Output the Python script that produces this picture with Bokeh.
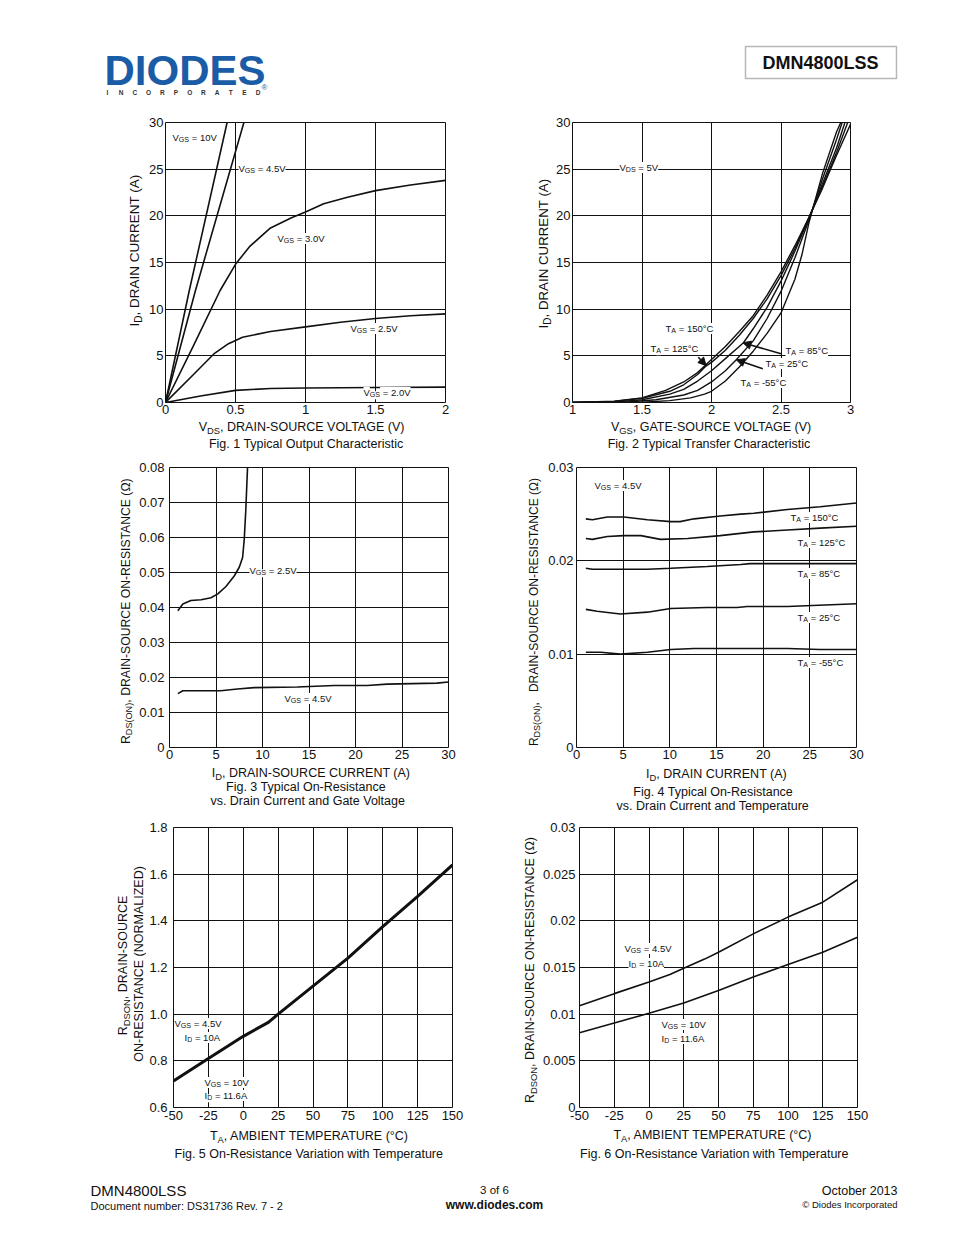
import math
from bokeh.plotting import figure
from bokeh.models import Range1d, FixedTicker, Label, Arrow, NormalHead, BoxAnnotation
from bokeh.layouts import column, row
from bokeh.embed import file_html
from bokeh.resources import INLINE

FONT = "Liberation Sans"
INK = "#111111"

# ---------------- DATA ----------------
# Fig 1 - output characteristic
f1_x_ticks = [0, 0.5, 1, 1.5, 2]
f1_x_labels = ["0", "0.5", "1", "1.5", "2"]
f1_y_ticks = [0, 5, 10, 15, 20, 25, 30]
f1_y_labels = ["0", "5", "10", "15", "20", "25", "30"]
f1_vgs10_x = [0, 0.17, 0.44]
f1_vgs10_y = [0, 12, 30]
f1_vgs45_x = [0, 0.214, 0.56]
f1_vgs45_y = [0, 12, 30]
f1_vgs30_x = [0, 0.2, 0.39, 0.5, 0.6, 0.75, 0.9, 1.0, 1.13, 1.3, 1.5, 1.75, 2.0]
f1_vgs30_y = [0, 6.1, 12.0, 14.8, 16.7, 18.7, 19.8, 20.4, 21.3, 22.0, 22.7, 23.3, 23.8]
f1_vgs25_x = [0, 0.2, 0.345, 0.45, 0.55, 0.75, 1.0, 1.25, 1.5, 1.75, 2.0]
f1_vgs25_y = [0, 3.0, 5.2, 6.3, 7.0, 7.6, 8.1, 8.6, 9.0, 9.3, 9.5]
f1_vgs20_x = [0, 0.25, 0.5, 0.75, 1.0, 1.5, 2.0]
f1_vgs20_y = [0, 0.7, 1.3, 1.5, 1.55, 1.6, 1.65]

# Fig 2 - transfer characteristic
f2_x_ticks = [1, 1.5, 2, 2.5, 3]
f2_x_labels = ["1", "1.5", "2", "2.5", "3"]
f2_y_ticks = [0, 5, 10, 15, 20, 25, 30]
f2_y_labels = ["0", "5", "10", "15", "20", "25", "30"]
f2_t150_x = [1.0, 1.3, 1.5, 1.67, 1.8, 1.9, 2.0, 2.1, 2.2, 2.3, 2.4, 2.5, 2.6, 2.7, 2.8, 2.9, 3.0]
f2_t150_y = [0, 0.15, 0.5, 1.3, 2.2, 3.2, 4.6, 6.0, 7.6, 9.3, 11.5, 14.0, 16.8, 19.8, 23.0, 26.5, 29.8]
f2_t125_x = [1.0, 1.3, 1.5, 1.7, 1.8, 1.9, 1.96, 2.0, 2.1, 2.2, 2.3, 2.4, 2.5, 2.6, 2.7, 2.8, 2.9, 2.98]
f2_t125_y = [0, 0.12, 0.45, 1.2, 1.9, 3.0, 3.9, 4.3, 5.6, 7.2, 9.0, 11.1, 13.6, 16.5, 19.8, 23.2, 26.8, 30]
f2_t85_x = [1.0, 1.35, 1.5, 1.7, 1.8, 1.9, 2.0, 2.1, 2.23, 2.3, 2.4, 2.5, 2.6, 2.7, 2.8, 2.9, 2.96]
f2_t85_y = [0, 0.1, 0.3, 0.9, 1.4, 2.3, 3.4, 4.7, 6.4, 7.9, 10.2, 13.0, 16.2, 19.7, 23.5, 27.3, 30]
f2_t25_x = [1.0, 1.4, 1.6, 1.8, 1.9, 2.0, 2.1, 2.18, 2.3, 2.4, 2.5, 2.6, 2.7, 2.8, 2.9, 2.94]
f2_t25_y = [0, 0.06, 0.3, 0.8, 1.3, 2.2, 3.4, 4.6, 6.6, 9.0, 11.9, 15.5, 19.5, 24.0, 28.2, 30]
f2_tm55_x = [1.0, 1.5, 1.7, 1.85, 1.95, 2.0, 2.1, 2.2, 2.3, 2.4, 2.5, 2.6, 2.65, 2.7, 2.8, 2.9, 2.93]
f2_tm55_y = [0, 0.03, 0.2, 0.5, 0.9, 1.2, 2.3, 3.8, 5.5, 7.4, 9.6, 13.2, 15.8, 19.2, 24.6, 29.0, 30]

# Fig 3 - on-resistance vs drain current and gate voltage
f3_x_ticks = [0, 5, 10, 15, 20, 25, 30]
f3_x_labels = ["0", "5", "10", "15", "20", "25", "30"]
f3_y_ticks = [0, 0.01, 0.02, 0.03, 0.04, 0.05, 0.06, 0.07, 0.08]
f3_y_labels = ["0", "0.01", "0.02", "0.03", "0.04", "0.05", "0.06", "0.07", "0.08"]
f3_vgs25_x = [0.9, 1.43, 2.3, 3.4, 4.46, 5.2, 6.07, 6.96, 7.5, 7.86, 8.04, 8.2, 8.39]
f3_vgs25_y = [0.0391, 0.041, 0.042, 0.0422, 0.0428, 0.0439, 0.046, 0.049, 0.0515, 0.0543, 0.0596, 0.0676, 0.08]
f3_vgs45_x = [0.9, 1.43, 5.5, 7.3, 9.1, 13.75, 17.7, 21.25, 23.4, 28.75, 30]
f3_vgs45_y = [0.0154, 0.0162, 0.0162, 0.0167, 0.0171, 0.0173, 0.0177, 0.0177, 0.0181, 0.0184, 0.0187]

# Fig 4 - on-resistance vs drain current and temperature
f4_x_ticks = [0, 5, 10, 15, 20, 25, 30]
f4_x_labels = ["0", "5", "10", "15", "20", "25", "30"]
f4_y_ticks = [0, 0.01, 0.02, 0.03]
f4_y_labels = ["0", "0.01", "0.02", "0.03"]
f4_t150_x = [1, 1.7, 3.3, 5.07, 7.6, 10.1, 11.1, 12.6, 15.4, 17.6, 19, 22.6, 26.1, 30]
f4_t150_y = [0.0245, 0.0244, 0.0247, 0.0247, 0.0244, 0.0242, 0.0242, 0.0245, 0.0248, 0.025, 0.0251, 0.0255, 0.0258, 0.0262]
f4_t125_x = [1, 1.7, 3.3, 5.07, 6.9, 9, 11.9, 15.4, 19, 22.6, 26.1, 30]
f4_t125_y = [0.0224, 0.0223, 0.0226, 0.0227, 0.0227, 0.0223, 0.0224, 0.0227, 0.0231, 0.0233, 0.0235, 0.0237]
f4_t85_x = [1, 1.7, 4.7, 7.6, 10.1, 14, 17.6, 18.6, 22.6, 30]
f4_t85_y = [0.0192, 0.0191, 0.0191, 0.0191, 0.0192, 0.0194, 0.0196, 0.0197, 0.0197, 0.0197]
f4_t25_x = [1, 2.2, 4.7, 7.6, 10.1, 14, 17.2, 18.3, 22.6, 30]
f4_t25_y = [0.0148, 0.0146, 0.0143, 0.0145, 0.0149, 0.015, 0.015, 0.0151, 0.0151, 0.0154]
f4_tm55_x = [1, 2.6, 4.7, 7.6, 10.1, 12.6, 22.6, 26.1, 30]
f4_tm55_y = [0.0102, 0.0102, 0.0100, 0.0102, 0.0105, 0.0106, 0.0106, 0.0105, 0.0105]

# Fig 5 - normalized on-resistance vs temperature
f5_x_ticks = [-50, -25, 0, 25, 50, 75, 100, 125, 150]
f5_x_labels = ["-50", "-25", "0", "25", "50", "75", "100", "125", "150"]
f5_y_ticks = [0.6, 0.8, 1.0, 1.2, 1.4, 1.6, 1.8]
f5_y_labels = ["0.6", "0.8", "1.0", "1.2", "1.4", "1.6", "1.8"]
f5_temp = [-50, -25, 0, 18, 25, 50, 75, 100, 125, 150]
f5_rnorm = [0.714, 0.81, 0.905, 0.965, 1.0, 1.12, 1.24, 1.375, 1.505, 1.64]

# Fig 6 - on-resistance vs temperature
f6_x_ticks = [-50, -25, 0, 25, 50, 75, 100, 125, 150]
f6_x_labels = ["-50", "-25", "0", "25", "50", "75", "100", "125", "150"]
f6_y_ticks = [0, 0.005, 0.01, 0.015, 0.02, 0.025, 0.03]
f6_y_labels = ["0", "0.005", "0.01", "0.015", "0.02", "0.025", "0.03"]
f6_vgs45_t = [-50, -25, 0, 15, 25, 40, 50, 75, 100, 125, 150]
f6_vgs45_r = [0.0109, 0.0122, 0.01345, 0.01425, 0.01493, 0.0159, 0.01664, 0.0186, 0.0204, 0.022, 0.0244]
f6_vgs10_t = [-50, -25, 0, 25, 50, 75, 100, 125, 150]
f6_vgs10_r = [0.0080, 0.00905, 0.0101, 0.0112, 0.01254, 0.01397, 0.01532, 0.01664, 0.01824]

# ---------------- helpers ----------------
W = {' ': 278, '\u00a0': 278, '!': 278, '(': 333, ')': 333, ',': 278, '-': 333, '.': 278, '/': 278,
     ':': 278, '=': 584, '°': 400, 'Ω': 768, '©': 737, '®': 737,
     'A': 667, 'B': 667, 'C': 722, 'D': 722, 'E': 667, 'F': 611, 'G': 778, 'H': 722, 'I': 278,
     'J': 500, 'K': 667, 'L': 556, 'M': 833, 'N': 722, 'O': 778, 'P': 667, 'Q': 778, 'R': 722,
     'S': 667, 'T': 611, 'U': 722, 'V': 667, 'W': 944, 'X': 667, 'Y': 667, 'Z': 611,
     'a': 556, 'b': 556, 'c': 500, 'd': 556, 'e': 556, 'f': 278, 'g': 556, 'h': 556, 'i': 222,
     'j': 222, 'k': 500, 'l': 222, 'm': 833, 'n': 556, 'o': 556, 'p': 556, 'q': 556, 'r': 333,
     's': 500, 't': 278, 'u': 556, 'v': 500, 'w': 722, 'x': 500, 'y': 500, 'z': 500}


def tw(s, size):
    return sum(W.get(c, 556) for c in s) * size / 1000.0


SUB = 0.75


def _pieces(p, x0, y0, ox, oy, parts, size, vertical, align, bg, color):
    sizes = [size * SUB if s else size for _, s in parts]
    widths = [tw(t, fs) for (t, _), fs in zip(parts, sizes)]
    total = sum(widths)
    shift = total / 2 if align == "center" else 0
    pos = 0
    for (t, s), fs, w in zip(parts, sizes, widths):
        lead = len(t) - len(t.lstrip(" "))
        if bg is not None:
            # keep the leading gap inside the white box (non-breaking spaces survive in SVG)
            t = "\u00a0" * lead + t.strip(" ")
            adv = 0
        else:
            adv = tw(" " * lead, fs)
            t = t.strip(" ")
        drop = size * 0.3 if s else 0
        if not vertical:
            xo, yo, ang = ox - shift + pos + adv, oy - drop, 0
        else:
            xo, yo, ang = ox + drop, oy - shift + pos + adv, math.pi / 2
        extra = {}
        if bg is not None:
            extra = dict(background_fill_color=bg)
        p.add_layout(Label(x=x0, y=y0, x_offset=xo, y_offset=yo, text=t, angle=ang,
                           text_font=FONT, text_font_size=f"{fs:.1f}px", text_align="left",
                           text_baseline="middle", text_color=color, **extra))
        pos += w


def rich_in(p, fr, parts, px, py, size, bg="white"):
    """label inside a chart frame; fr = (frame_left, frame_bottom, x_start, y_start) (page px)"""
    left, bottom, x0, y0 = fr
    _pieces(p, x0, y0, px - left, bottom - py, parts, size, False, "left", bg, INK)


def rich_pg(p, parts, px, py, size, vertical=False, align="center", color=INK):
    """text on a page-coordinate blank figure"""
    _pieces(p, px, py, 0, 0, parts, size, vertical, align, None, color)


def blank(x0, y0, w, h, bl=0, br=0):
    p = figure(width=w, height=h, x_range=Range1d(x0 + bl, x0 + w - br), y_range=Range1d(y0 + h, y0),
               output_backend="svg", toolbar_location=None, x_axis_type=None, y_axis_type=None,
               min_border=0, min_border_left=bl, min_border_right=br)
    p.outline_line_color = None
    p.grid.visible = False
    return p


def make_fig(w, h, xr, yr, bl, br, bb, xt, xl, yt, yl, xs, ys):
    p = figure(width=w, height=h, x_range=Range1d(*xr), y_range=Range1d(*yr),
               output_backend="svg", toolbar_location=None,
               min_border_left=bl, min_border_right=br, min_border_top=12, min_border_bottom=bb)
    p.outline_line_color = INK
    p.outline_line_width = 1
    xtk = FixedTicker(ticks=xt)
    ytk = FixedTicker(ticks=yt)
    p.xaxis.ticker = xtk
    p.yaxis.ticker = ytk
    p.xgrid.ticker = xtk
    p.ygrid.ticker = ytk
    p.xaxis.major_label_overrides = dict(zip(xt, xl))
    p.yaxis.major_label_overrides = dict(zip(yt, yl))
    for ax in (p.xaxis, p.yaxis):
        ax.axis_line_color = None
        ax.major_tick_line_color = None
        ax.minor_tick_line_color = None
        ax.major_tick_out = 0
        ax.major_tick_in = 0
        ax.minor_tick_out = 0
        ax.major_label_text_font = FONT
        ax.major_label_text_font_size = "13px"
        ax.major_label_text_color = INK
    p.xaxis.major_label_standoff = xs
    p.yaxis.major_label_standoff = ys
    p.grid.grid_line_color = INK
    p.grid.grid_line_alpha = 1
    p.grid.grid_line_width = 1
    return p


FW = 280  # frame size


def cell(cell_l, cell_r, row_top, row_h, frame_l, ylb, cb, xr, yr, xt, xl, yt, yl, xs, ys):
    chart_l = frame_l - ylb
    chart_w = cell_r - chart_l
    chart_h = 12 + FW + cb
    br = cell_r - frame_l - FW
    p = make_fig(chart_w, chart_h, xr, yr, ylb, br, cb, xt, xl, yt, yl, xs, ys)
    yfig = blank(cell_l, row_top, chart_l - cell_l, row_h)
    bfig = blank(chart_l, row_top + chart_h, chart_w, row_h - chart_h, ylb, br)
    return p, yfig, bfig, row(yfig, column(p, bfig))


LW = 1.6
LBL = 9.5
R1, H1 = 110, 345
R2, H2 = 455, 360
R3, H3 = 815, 350

# ---------------- Fig 1 ----------------
p1, y1, b1, c1 = cell(0, 477, R1, H1, 165, 22, 17, (0, 2), (0, 30),
                      f1_x_ticks, f1_x_labels, f1_y_ticks, f1_y_labels, 2, 2)
for xs_, ys_ in [(f1_vgs10_x, f1_vgs10_y), (f1_vgs45_x, f1_vgs45_y), (f1_vgs30_x, f1_vgs30_y),
                 (f1_vgs25_x, f1_vgs25_y), (f1_vgs20_x, f1_vgs20_y)]:
    p1.line(xs_, ys_, line_color=INK, line_width=LW)
fr1 = (165, 402, 0, 0)
rich_pg(b1, [("V", 0), ("DS", 1), (", DRAIN-SOURCE VOLTAGE (V)", 0)], 302, 426, 12.5)
rich_pg(b1, [("Fig. 1 Typical Output Characteristic", 0)], 306, 443, 12.5)
rich_pg(y1, [("I", 0), ("D", 1), (", DRAIN CURRENT (A)", 0)], 134, 250, 13.5, vertical=True)
for txt, lx, ly in [(" = 10V", 172, 137), (" = 4.5V", 238, 168), (" = 3.0V", 277, 238),
                    (" = 2.5V", 350, 328), (" = 2.0V", 363, 392)]:
    rich_in(p1, fr1, [("V", 0), ("GS", 1), (txt, 0)], lx, ly, LBL)

# ---------------- Fig 2 ----------------
p2, y2, b2, c2 = cell(477, 954, R1, H1, 570, 17, 17, (1, 3), (0, 30),
                      f2_x_ticks, f2_x_labels, f2_y_ticks, f2_y_labels, 2, 2)
for xs_, ys_ in [(f2_t150_x, f2_t150_y), (f2_t125_x, f2_t125_y), (f2_t85_x, f2_t85_y),
                 (f2_t25_x, f2_t25_y), (f2_tm55_x, f2_tm55_y)]:
    p2.line(xs_, ys_, line_color=INK, line_width=1.4)
fr2 = (570, 402, 1, 0)
rich_pg(b2, [("V", 0), ("GS", 1), (", GATE-SOURCE VOLTAGE (V)", 0)], 711, 426, 12.5)
rich_pg(b2, [("Fig. 2  Typical Transfer Characteristic", 0)], 710, 443, 12.5)
rich_pg(y2, [("I", 0), ("D", 1), (", DRAIN CURRENT (A)", 0)], 543, 253, 13.3, vertical=True)
rich_in(p2, fr2, [("V", 0), ("DS", 1), (" = 5V", 0)], 617, 167, LBL)
for txt, lx, ly in [(" = 150°C", 663, 328), (" = 125°C", 648, 348), (" = 85°C", 783, 350),
                    (" = 25°C", 763, 363), (" = -55°C", 738, 382)]:
    rich_in(p2, fr2, [("T", 0), ("A", 1), (txt, 0)], lx, ly, LBL)
for (xa, ya, xb, yb) in [(1.905, 4.85, 1.962, 3.95), (2.5, 5.22, 2.226, 6.4), (2.369, 3.61, 2.179, 4.57)]:
    p2.add_layout(Arrow(end=NormalHead(size=8, fill_color=INK, line_color=INK, line_width=1),
                        x_start=xa, y_start=ya, x_end=xb, y_end=yb, line_color=INK, line_width=1.6))

# ---------------- Fig 3 ----------------
p3, y3, b3, c3 = cell(0, 477, R2, H2, 168, 32, 17, (0, 30), (0, 0.08),
                      f3_x_ticks, f3_x_labels, f3_y_ticks, f3_y_labels, 2, 5)
p3.line(f3_vgs25_x, f3_vgs25_y, line_color=INK, line_width=LW)
p3.line(f3_vgs45_x, f3_vgs45_y, line_color=INK, line_width=LW)
fr3 = (168, 747, 0, 0)
rich_pg(b3, [("I", 0), ("D", 1), (", DRAIN-SOURCE CURRENT (A)", 0)], 310, 772, 12.5)
rich_pg(b3, [("Fig. 3  Typical On-Resistance", 0)], 307, 786, 12.5)
rich_pg(b3, [("vs. Drain Current and Gate Voltage", 0)], 307, 800, 12.5)
rich_pg(y3, [("R", 0), ("DS(ON)", 1), (", DRAIN-SOURCE ON-RESISTANCE (Ω)", 0)], 125, 610, 12.2, vertical=True)
rich_in(p3, fr3, [("V", 0), ("GS", 1), (" = 2.5V", 0)], 248, 570, LBL)
rich_in(p3, fr3, [("V", 0), ("GS", 1), (" = 4.5V", 0)], 283, 698, LBL)

# ---------------- Fig 4 ----------------
p4, y4, b4, c4 = cell(477, 954, R2, H2, 576, 32, 17, (0, 30), (0, 0.03),
                      f4_x_ticks, f4_x_labels, f4_y_ticks, f4_y_labels, 2, 3)
for xs_, ys_ in [(f4_t150_x, f4_t150_y), (f4_t125_x, f4_t125_y), (f4_t85_x, f4_t85_y),
                 (f4_t25_x, f4_t25_y), (f4_tm55_x, f4_tm55_y)]:
    p4.line(xs_, ys_, line_color=INK, line_width=LW)
fr4 = (576, 747, 0, 0)
rich_pg(b4, [("I", 0), ("D", 1), (", DRAIN CURRENT (A)", 0)], 716, 773, 12.5)
rich_pg(b4, [("Fig. 4 Typical On-Resistance", 0)], 713, 791, 12.5)
rich_pg(b4, [("vs. Drain Current and Temperature", 0)], 713, 805, 12.5)
rich_pg(y4, [("R", 0), ("DS(ON)", 1), (",", 0), ("   DRAIN-SOURCE ON-RESISTANCE (Ω)", 0)], 533, 611, 12.0, vertical=True)
rich_in(p4, fr4, [("V", 0), ("GS", 1), (" = 4.5V", 0)], 594, 485, LBL)
for txt, lx, ly in [(" = 150°C", 790, 517), (" = 125°C", 797, 542), (" = 85°C", 797, 573),
                    (" = 25°C", 797, 617), (" = -55°C", 797, 662)]:
    rich_in(p4, fr4, [("T", 0), ("A", 1), (txt, 0)], lx, ly, LBL)

# ---------------- Fig 5 ----------------
p5, y5, b5, c5 = cell(0, 477, R3, H3, 172, 26, 18, (-50, 150), (0.6, 1.8),
                      f5_x_ticks, f5_x_labels, f5_y_ticks, f5_y_labels, 3, 6)
p5.line(f5_temp, f5_rnorm, line_color=INK, line_width=3)
fr5 = (172, 1107, -50, 0.6)
rich_pg(b5, [("T", 0), ("A", 1), (", AMBIENT TEMPERATURE (°C)", 0)], 309, 1135, 12.5)
rich_pg(b5, [("Fig. 5 On-Resistance Variation with Temperature", 0)], 309, 1153, 12.5)
rich_pg(y5, [("R", 0), ("DSON", 1), (", DRAIN-SOURCE", 0)], 122, 965, 12.5, vertical=True)
rich_pg(y5, [("ON-RESISTANCE (NORMALIZED)", 0)], 138, 963, 12.5, vertical=True)
rich_in(p5, fr5, [("V", 0), ("GS", 1), (" = 4.5V", 0)], 173, 1023, LBL)
rich_in(p5, fr5, [("I", 0), ("D", 1), (" = 10A", 0)], 183, 1037, LBL)
rich_in(p5, fr5, [("V", 0), ("GS", 1), (" = 10V", 0)], 203, 1082, LBL)
rich_in(p5, fr5, [("I", 0), ("D", 1), (" = 11.6A", 0)], 203, 1095, LBL)

# ---------------- Fig 6 ----------------
p6, y6, b6, c6 = cell(477, 954, R3, H3, 577, 38, 18, (-50, 150), (0, 0.03),
                      f6_x_ticks, f6_x_labels, f6_y_ticks, f6_y_labels, 3, 4)
p6.line(f6_vgs45_t, f6_vgs45_r, line_color=INK, line_width=LW)
p6.line(f6_vgs10_t, f6_vgs10_r, line_color=INK, line_width=LW)
fr6 = (577, 1107, -50, 0)
rich_pg(b6, [("T", 0), ("A", 1), (", AMBIENT TEMPERATURE (°C)", 0)], 712, 1134, 12.5)
rich_pg(b6, [("Fig. 6 On-Resistance Variation with Temperature", 0)], 714, 1153, 12.5)
rich_pg(y6, [("R", 0), ("DSON", 1), (", DRAIN-SOURCE ON-RESISTANCE (Ω)", 0)], 529, 969, 12.5, vertical=True)
rich_in(p6, fr6, [("V", 0), ("GS", 1), (" = 4.5V", 0)], 622, 948, LBL)
rich_in(p6, fr6, [("I", 0), ("D", 1), (" = 10A", 0)], 626, 963, LBL)
rich_in(p6, fr6, [("V", 0), ("GS", 1), (" = 10V", 0)], 659, 1024, LBL)
rich_in(p6, fr6, [("I", 0), ("D", 1), (" = 11.6A", 0)], 659, 1038, LBL)

# ---------------- header & footer ----------------
hdr = blank(0, 0, 954, R1)
BLUE = "#1b5ca6"
hdr.add_layout(Label(x=104, y=70, text="DIODES", text_font=FONT, text_font_style="bold",
                     text_font_size="42px", text_color=BLUE, text_baseline="middle", text_align="left"))
hdr.add_layout(Label(x=264, y=87, text="®", text_font=FONT, text_font_size="8px", text_color=BLUE,
                     text_baseline="middle", text_align="center"))
for i, ch in enumerate("INCORPORATED"):
    hdr.add_layout(Label(x=107 + i * 13.7, y=92, text=ch, text_font=FONT, text_font_style="bold",
                         text_font_size="6.5px", text_color="#333333", text_baseline="middle",
                         text_align="center"))
hdr.add_layout(BoxAnnotation(left=745, right=896, top=46, bottom=78, fill_color="white", fill_alpha=1,
                             line_color=INK, line_width=1.5))
hdr.add_layout(Label(x=820, y=62, text="DMN4800LSS", text_font=FONT, text_font_style="bold",
                     text_font_size="18px", text_color=INK, text_baseline="middle", text_align="center"))

ftr = blank(0, R3 + H3, 954, 55)
ftr.add_layout(Label(x=90, y=1190, text="DMN4800LSS", text_font=FONT, text_font_size="15px",
                     text_color=INK, text_baseline="middle", text_align="left"))
ftr.add_layout(Label(x=90, y=1205, text="Document number: DS31736 Rev. 7 - 2", text_font=FONT,
                     text_font_size="11px", text_color=INK, text_baseline="middle", text_align="left"))
ftr.add_layout(Label(x=494, y=1189, text="3 of 6", text_font=FONT, text_font_size="11.5px",
                     text_color=INK, text_baseline="middle", text_align="center"))
ftr.add_layout(Label(x=494, y=1204, text="www.diodes.com", text_font=FONT, text_font_style="bold",
                     text_font_size="12px", text_color=INK, text_baseline="middle", text_align="center"))
ftr.add_layout(Label(x=897, y=1190, text="October 2013", text_font=FONT, text_font_size="12.5px",
                     text_color=INK, text_baseline="middle", text_align="right"))
ftr.add_layout(Label(x=897, y=1204, text="© Diodes Incorporated", text_font=FONT, text_font_size="9.5px",
                     text_color=INK, text_baseline="middle", text_align="right"))

page = column(hdr, row(c1, c2), row(c3, c4), row(c5, c6), ftr)
open("out.html", "w").write(file_html(page, INLINE, title="DMN4800LSS"))
